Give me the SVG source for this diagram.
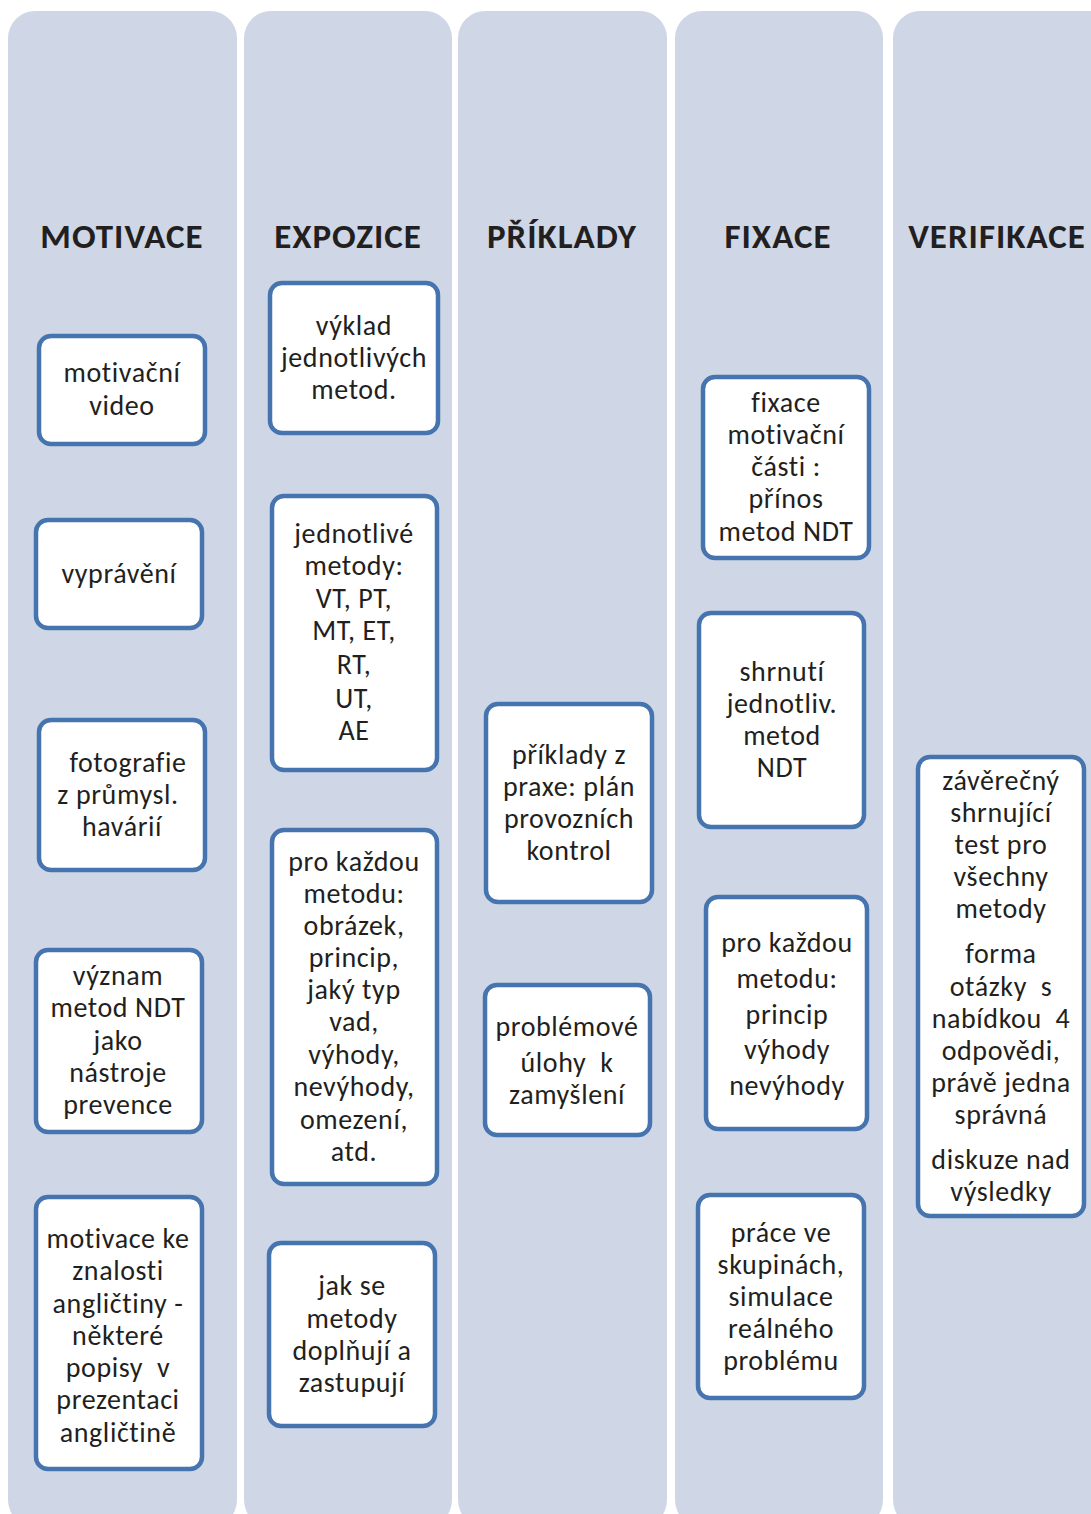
<svg xmlns="http://www.w3.org/2000/svg" width="1091" height="1514" viewBox="0 0 1091 1514">
<style>
.col{fill:#cfd7e6}
.node rect{fill:#fff;stroke:#4674ae;stroke-width:4.5}
.hd{font-family:Carlito,Lato,"Open Sans",sans-serif;font-weight:bold;font-size:35px;letter-spacing:1px;fill:#231f20;text-anchor:middle}
.t{font-family:Carlito,Lato,"Open Sans",sans-serif;font-size:28px;letter-spacing:0.6px;fill:#231f20;text-anchor:middle;white-space:pre}
</style>
<rect width="1091" height="1514" fill="#fff"/>
<g id="columns">
<rect class="col" x="8" y="11" width="229" height="1516" rx="27"/>
<rect class="col" x="244" y="11" width="208" height="1516" rx="27"/>
<rect class="col" x="458" y="11" width="209" height="1516" rx="27"/>
<rect class="col" x="675" y="11" width="208" height="1516" rx="27"/>
<rect class="col" x="893" y="11" width="230" height="1516" rx="27"/>
</g>
<g id="headers">
<text class="hd" x="122" y="248">MOTIVACE</text>
<text class="hd" x="348" y="248">EXPOZICE</text>
<text class="hd" x="562" y="248">PŘÍKLADY</text>
<text class="hd" x="778" y="248">FIXACE</text>
<text class="hd" x="997" y="248">VERIFIKACE</text>
</g>
<g id="connectors"></g>
<g id="n1" class="node"><rect x="39" y="336" width="166" height="108" rx="12"/>
<text class="t" xml:space="preserve"><tspan x="122" y="382">motivační</tspan><tspan x="122" y="415">video</tspan></text></g>
<g id="n2" class="node"><rect x="36" y="520" width="166" height="108" rx="12"/>
<text class="t" xml:space="preserve"><tspan x="119" y="583">vyprávění</tspan></text></g>
<g id="n3" class="node"><rect x="39" y="720" width="166" height="150" rx="12"/>
<text class="t" xml:space="preserve"><tspan x="128" y="772">fotografie</tspan><tspan x="118" y="804">z průmysl.</tspan><tspan x="122" y="836">havárií</tspan></text></g>
<g id="n4" class="node"><rect x="36" y="950" width="166" height="182" rx="12"/>
<text class="t" xml:space="preserve"><tspan x="118" y="985">význam</tspan><tspan x="118" y="1017">metod NDT</tspan><tspan x="118" y="1050">jako</tspan><tspan x="118" y="1082">nástroje</tspan><tspan x="118" y="1114">prevence</tspan></text></g>
<g id="n5" class="node"><rect x="36" y="1197" width="166" height="272" rx="12"/>
<text class="t" xml:space="preserve"><tspan x="118" y="1248">motivace ke</tspan><tspan x="118" y="1280">znalosti</tspan><tspan x="118" y="1313">angličtiny -</tspan><tspan x="118" y="1345">některé</tspan><tspan x="118" y="1377">popisy  v</tspan><tspan x="118" y="1409">prezentaci</tspan><tspan x="118" y="1442">angličtině</tspan></text></g>
<g id="n6" class="node"><rect x="270" y="283" width="168" height="150" rx="12"/>
<text class="t" xml:space="preserve"><tspan x="354" y="335">výklad</tspan><tspan x="354" y="367">jednotlivých</tspan><tspan x="354" y="399">metod.</tspan></text></g>
<g id="n7" class="node"><rect x="272" y="496" width="165" height="274" rx="12"/>
<text class="t" xml:space="preserve"><tspan x="354" y="543">jednotlivé</tspan><tspan x="354" y="575">metody:</tspan><tspan x="354" y="608">VT, PT,</tspan><tspan x="354" y="640">MT, ET,</tspan><tspan x="354" y="674">RT,</tspan><tspan x="354" y="708">UT,</tspan><tspan x="354" y="740">AE</tspan></text></g>
<g id="n8" class="node"><rect x="272" y="830" width="165" height="354" rx="12"/>
<text class="t" xml:space="preserve"><tspan x="354" y="871">pro každou</tspan><tspan x="354" y="903">metodu:</tspan><tspan x="354" y="935">obrázek,</tspan><tspan x="354" y="967">princip,</tspan><tspan x="354" y="999">jaký typ</tspan><tspan x="354" y="1031">vad,</tspan><tspan x="354" y="1064">výhody,</tspan><tspan x="354" y="1096">nevýhody,</tspan><tspan x="354" y="1129">omezení,</tspan><tspan x="354" y="1161">atd.</tspan></text></g>
<g id="n9" class="node"><rect x="269" y="1243" width="166" height="183" rx="12"/>
<text class="t" xml:space="preserve"><tspan x="352" y="1295">jak se</tspan><tspan x="352" y="1328">metody</tspan><tspan x="352" y="1360">doplňují a</tspan><tspan x="352" y="1392">zastupují</tspan></text></g>
<g id="n10" class="node"><rect x="486" y="704" width="166" height="198" rx="12"/>
<text class="t" xml:space="preserve"><tspan x="569" y="764">příklady z</tspan><tspan x="569" y="796">praxe: plán</tspan><tspan x="569" y="828">provozních</tspan><tspan x="569" y="860">kontrol</tspan></text></g>
<g id="n11" class="node"><rect x="485" y="985" width="165" height="150" rx="12"/>
<text class="t" xml:space="preserve"><tspan x="567" y="1036">problémové</tspan><tspan x="567" y="1072">úlohy  k</tspan><tspan x="567" y="1104">zamyšlení</tspan></text></g>
<g id="n12" class="node"><rect x="703" y="377" width="166" height="181" rx="12"/>
<text class="t" xml:space="preserve"><tspan x="786" y="412">fixace</tspan><tspan x="786" y="444">motivační</tspan><tspan x="786" y="476">části :</tspan><tspan x="786" y="508">přínos</tspan><tspan x="786" y="541">metod NDT</tspan></text></g>
<g id="n13" class="node"><rect x="699" y="613" width="165" height="214" rx="12"/>
<text class="t" xml:space="preserve"><tspan x="782" y="681">shrnutí</tspan><tspan x="782" y="713">jednotliv.</tspan><tspan x="782" y="745">metod</tspan><tspan x="782" y="777">NDT</tspan></text></g>
<g id="n14" class="node"><rect x="706" y="897" width="161" height="232" rx="12"/>
<text class="t" xml:space="preserve"><tspan x="787" y="952">pro každou</tspan><tspan x="787" y="988">metodu:</tspan><tspan x="787" y="1024">princip</tspan><tspan x="787" y="1059">výhody</tspan><tspan x="787" y="1095">nevýhody</tspan></text></g>
<g id="n15" class="node"><rect x="698" y="1195" width="166" height="203" rx="12"/>
<text class="t" xml:space="preserve"><tspan x="781" y="1242">práce ve</tspan><tspan x="781" y="1274">skupinách,</tspan><tspan x="781" y="1306">simulace</tspan><tspan x="781" y="1338">reálného</tspan><tspan x="781" y="1370">problému</tspan></text></g>
<g id="n16" class="node"><rect x="918" y="757" width="166" height="459" rx="12"/>
<text class="t" xml:space="preserve"><tspan x="1001" y="790">závěrečný</tspan><tspan x="1001" y="822">shrnující</tspan><tspan x="1001" y="854">test pro</tspan><tspan x="1001" y="886">všechny</tspan><tspan x="1001" y="918">metody</tspan><tspan x="1001" y="963">forma</tspan><tspan x="1001" y="996">otázky  s</tspan><tspan x="1001" y="1028">nabídkou  4</tspan><tspan x="1001" y="1060">odpovědi,</tspan><tspan x="1001" y="1092">právě jedna</tspan><tspan x="1001" y="1124">správná</tspan><tspan x="1001" y="1169">diskuze nad</tspan><tspan x="1001" y="1201">výsledky</tspan></text></g>
</svg>
